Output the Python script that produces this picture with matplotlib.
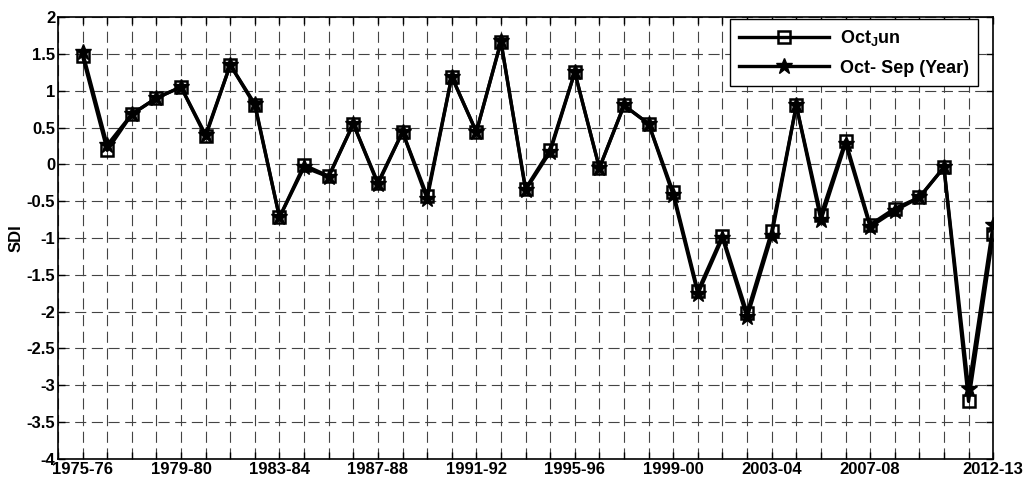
import numpy as np
import matplotlib.pyplot as plt

plt.rcParams['font.family'] = ['Liberation Sans', 'DejaVu Sans']
plt.rcParams['font.weight'] = 'bold'
plt.rcParams['mathtext.fontset'] = 'custom'
plt.rcParams['mathtext.bf'] = 'Liberation Sans:bold'
plt.rcParams['mathtext.rm'] = 'Liberation Sans:bold'

# SDI values, hydrological years 1975-76 .. 2012-13
oct_jun = [1.47, 0.19, 0.68, 0.90, 1.05, 0.38, 1.35, 0.80, -0.72, -0.01,
           -0.16, 0.55, -0.25, 0.44, -0.43, 1.19, 0.44, 1.66, -0.33, 0.20,
           1.25, -0.05, 0.80, 0.55, -0.38, -1.72, -0.97, -2.02, -0.91, 0.80,
           -0.69, 0.32, -0.82, -0.60, -0.45, -0.04, -3.22, -0.95]
oct_sep = [1.52, 0.26, 0.68, 0.90, 1.05, 0.40, 1.35, 0.82, -0.72, -0.04,
           -0.17, 0.55, -0.27, 0.44, -0.47, 1.19, 0.44, 1.67, -0.35, 0.17,
           1.25, -0.05, 0.80, 0.55, -0.42, -1.76, -1.00, -2.08, -0.97, 0.80,
           -0.76, 0.28, -0.85, -0.63, -0.45, -0.04, -3.05, -0.82]
year_idx = np.arange(1, len(oct_jun) + 1)

tick_pos = [1, 5, 9, 13, 17, 21, 25, 29, 33, 38]
tick_labels = ['1975-76', '1979-80', '1983-84', '1987-88', '1991-92',
               '1995-96', '1999-00', '2003-04', '2007-08', '2012-13']

fig = plt.figure(figsize=(10.26, 4.8), dpi=100)
ax = fig.add_axes([0.0565, 0.044, 0.9115, 0.9205])

ax.plot(year_idx, oct_jun, color='black', linewidth=2.4, marker='s',
        markersize=9, markerfacecolor='none', markeredgewidth=1.8,
        label=r'Oct$_\mathbf{J}$un')
ax.plot(year_idx, oct_sep, color='black', linewidth=2.4, marker='*',
        markersize=12, label='Oct- Sep (Year)')

ax.set_xlim(0, 38)
ax.set_ylim(-4, 2)
ax.set_yticks(np.arange(-4, 2.01, 0.5))
ax.set_yticklabels(['%g' % v for v in np.arange(-4, 2.01, 0.5)])
ax.set_xticks(np.arange(0, 39))
labels = ['' for _ in range(39)]
for p, l in zip(tick_pos, tick_labels):
    labels[p] = l
ax.set_xticklabels(labels)
ax.tick_params(direction='in', top=True, right=True, labelsize=12, length=5,
               pad=2, width=1)
ax.grid(True, linestyle=(0, (10, 5)), color='#444444', linewidth=0.8)
for s in ax.spines.values():
    s.set_linewidth(1.2)

ax.set_ylabel('SDI', fontsize=12, fontweight='bold', labelpad=2)

leg = ax.legend(loc='upper right', bbox_to_anchor=(0.984, 0.996),
                fontsize=13, handlelength=5.0, fancybox=False, framealpha=1,
                edgecolor='black', borderaxespad=0.0, labelspacing=0.65,
                borderpad=0.5, handletextpad=0.6)
leg.get_frame().set_linewidth(1.0)

fig.savefig('out.png', dpi=100)
